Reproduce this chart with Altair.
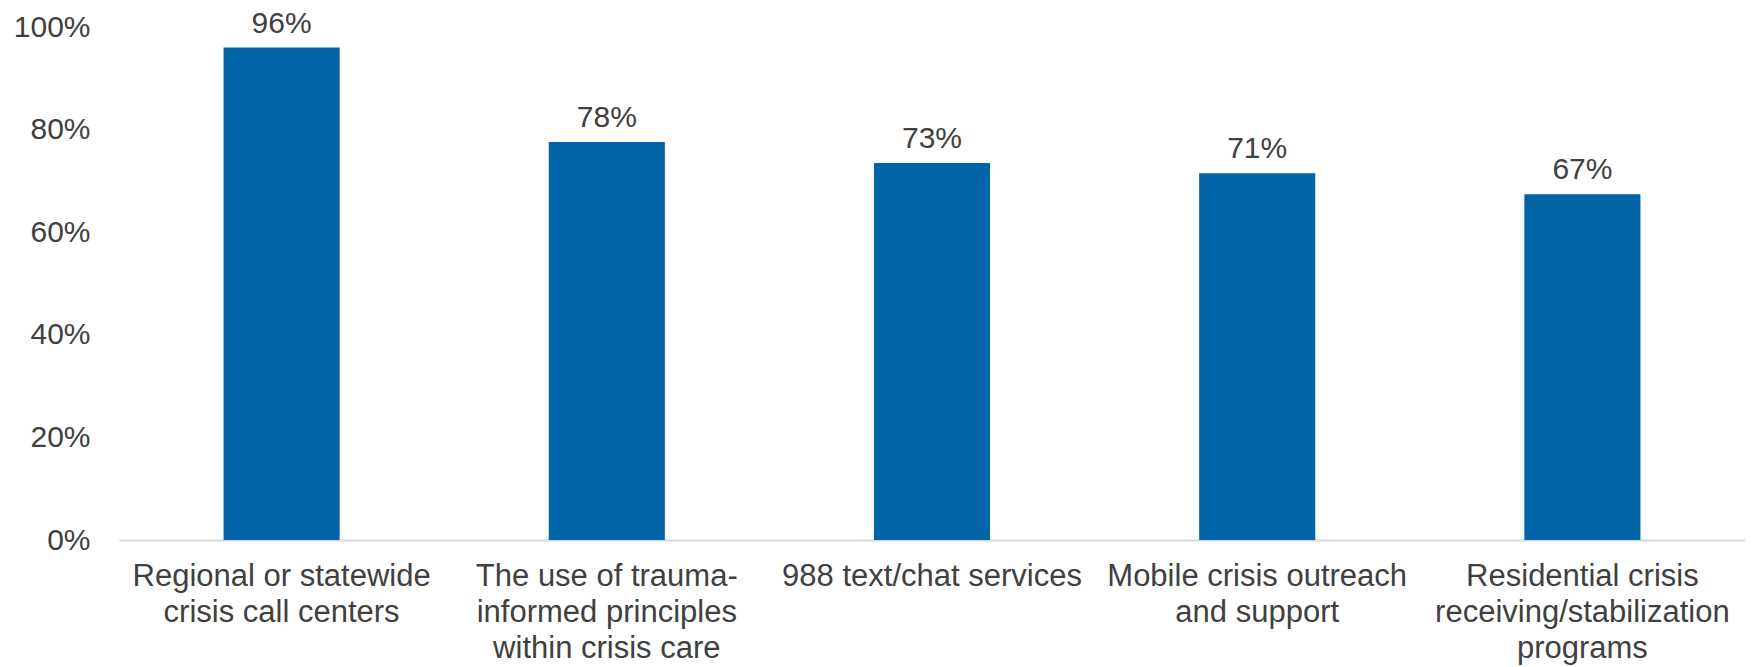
import altair as alt
import pandas as pd

categories = [
    "Regional or statewide|crisis call centers",
    "The use of trauma-|informed principles|within crisis care",
    "988 text/chat services",
    "Mobile crisis outreach|and support",
    "Residential crisis|receiving/stabilization|programs",
]
values = [96.0, 77.6, 73.5, 71.5, 67.4]
labels = ["96%", "78%", "73%", "71%", "67%"]

df = pd.DataFrame({"cat": categories, "val": values, "lbl": labels})

FONT = "Liberation Sans"
TXT = "#404040"

x_enc = alt.X(
    "cat:N",
    sort=categories,
    scale=alt.Scale(paddingInner=0.643, paddingOuter=0.3215),
    axis=alt.Axis(
        title=None,
        labelAngle=0,
        labelExpr="split(datum.label, '|')",
        labelFont=FONT,
        labelFontSize=31,
        labelColor=TXT,
        labelLineHeight=36,
        labelPadding=21,
        labelLimit=400,
        ticks=False,
        grid=False,
        domainColor="#D9D9D9",
        domainWidth=2,
    ),
)

y_enc = alt.Y(
    "val:Q",
    scale=alt.Scale(domain=[0, 100], nice=False),
    axis=alt.Axis(
        title=None,
        values=[0, 20, 40, 60, 80, 100],
        labelExpr="datum.value + '%'",
        labelFont=FONT,
        labelFontSize=30,
        labelColor=TXT,
        labelPadding=29,
        ticks=False,
        domain=False,
        grid=False,
    ),
)

bars = alt.Chart(df).mark_bar(color="#0064A7").encode(x=x_enc, y=y_enc)

text = alt.Chart(df).mark_text(
    font=FONT, fontSize=30, color=TXT, baseline="alphabetic", dy=-15
).encode(x=alt.X("cat:N", sort=categories), y="val:Q", text="lbl:N")

chart = (
    alt.layer(bars, text)
    .properties(
        width=1626,
        height=513,
        background="white",
        autosize=alt.AutoSizeParams(type="none"),
        padding={"left": 119, "top": 27, "right": 7, "bottom": 127},
    )
    .configure_view(strokeWidth=0, stroke="transparent")
)

chart.save("out.html", embed_options={"renderer": "svg", "actions": False})
